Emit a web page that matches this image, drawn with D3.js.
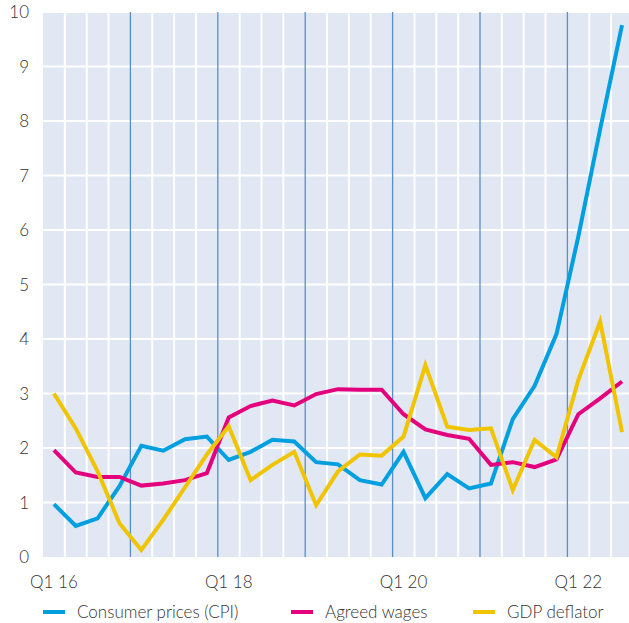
<!DOCTYPE html>
<html>
<head>
<meta charset="utf-8">
<script src="https://cdn.jsdelivr.net/npm/d3@7"></script>
<style>
    body { margin: 0; background: #fff; }
    svg { display: block; font-family: Lato, "Open Sans", sans-serif; }
    .lbl { fill: #333; font-size: 17px; font-weight: 300; }
</style>
</head>
<body>
<svg id="chart" width="629" height="623"></svg>
<script>
const quarters = ["Q1 16","Q2 16","Q3 16","Q4 16","Q1 17","Q2 17","Q3 17","Q4 17",
    "Q1 18","Q2 18","Q3 18","Q4 18","Q1 19","Q2 19","Q3 19","Q4 19",
    "Q1 20","Q2 20","Q3 20","Q4 20","Q1 21","Q2 21","Q3 21","Q4 21",
    "Q1 22","Q2 22","Q3 22"];
const cpi = [0.97,0.57,0.71,1.30,2.04,1.95,2.16,2.21,1.78,1.93,2.15,2.12,1.74,1.70,1.41,1.33,
    1.93,1.08,1.52,1.26,1.35,2.53,3.14,4.09,5.88,7.85,9.76];
const wages = [1.96,1.55,1.47,1.47,1.31,1.35,1.41,1.54,2.56,2.77,2.87,2.78,2.99,3.08,3.07,3.07,
    2.62,2.34,2.24,2.17,1.69,1.74,1.65,1.79,2.62,2.91,3.22];
const gdpDeflator = [3.00,2.36,1.57,0.62,0.13,0.68,1.28,1.88,2.40,1.41,1.69,1.93,0.95,1.57,1.88,1.86,
    2.21,3.52,2.39,2.33,2.36,1.23,2.15,1.83,3.25,4.32,2.29];
const yTicks = [0,1,2,3,4,5,6,7,8,9,10];
const xTickLabels = ["Q1 16","Q1 18","Q1 20","Q1 22"];

const series = [
    {name: "Consumer prices (CPI)", values: cpi, color: "#009fe0"},
    {name: "Agreed wages", values: wages, color: "#e4007c"},
    {name: "GDP deflator", values: gdpDeflator, color: "#f0c400"}
];

const svg = d3.select("#chart");
const pLeft = 43, pTop = 12, pBottom = 557, pRight = 629;
const qw = 21.85;

// one unit per quarter, points sit in the middle of each quarter
const x = d3.scaleLinear().domain([0, 28]).range([pLeft, pLeft + 28 * qw]);
const y = d3.scaleLinear().domain([0, 10]).range([pBottom, pTop]);

svg.append("rect")
    .attr("x", pLeft).attr("y", pTop)
    .attr("width", pRight - pLeft).attr("height", pBottom - pTop)
    .attr("fill", "#e1e8f4");

// white grid
svg.append("g").selectAll("line")
    .data(yTicks.slice(1))
    .enter().append("line")
    .attr("x1", pLeft).attr("x2", pRight)
    .attr("y1", d => y(d)).attr("y2", d => y(d))
    .attr("stroke", "#fff").attr("stroke-width", 2);

svg.append("g").selectAll("line")
    .data(d3.range(1, 28).filter(i => i % 4 != 0))
    .enter().append("line")
    .attr("x1", d => x(d)).attr("x2", d => x(d))
    .attr("y1", pTop).attr("y2", pBottom)
    .attr("stroke", "#fff").attr("stroke-width", 2);

// year separators
svg.append("g").selectAll("line")
    .data([4, 8, 12, 16, 20, 24])
    .enter().append("line")
    .attr("x1", d => x(d)).attr("x2", d => x(d))
    .attr("y1", pTop).attr("y2", pBottom)
    .attr("stroke", "#5a8fc3").attr("stroke-width", 1.3);

// y labels
svg.append("g").selectAll("text")
    .data(yTicks)
    .enter().append("text")
    .attr("class", "lbl")
    .attr("x", 29).attr("y", d => y(d) + 6)
    .attr("text-anchor", "end")
    .text(d => d);

// x labels
svg.append("g").selectAll("text")
    .data(xTickLabels)
    .enter().append("text")
    .attr("class", "lbl")
    .attr("x", d => x(quarters.indexOf(d) + 0.5))
    .attr("y", 588)
    .attr("text-anchor", "middle")
    .text(d => d);

const line = d3.line()
    .x((d, i) => x(i + 0.5))
    .y(d => y(d));

svg.append("g").selectAll("path")
    .data(series)
    .enter().append("path")
    .attr("d", d => line(d.values))
    .attr("fill", "none")
    .attr("stroke", d => d.color)
    .attr("stroke-width", 4);

// legend
const legX = [43, 291, 473];
const leg = svg.append("g").selectAll("g")
    .data(series)
    .enter().append("g")
    .attr("transform", (d, i) => "translate(" + legX[i] + ",612)");
leg.append("line")
    .attr("x1", 0).attr("x2", 22)
    .attr("stroke", d => d.color).attr("stroke-width", 4);
leg.append("text")
    .attr("class", "lbl")
    .attr("x", 34).attr("y", 6)
    .text(d => d.name);
</script>
</body>
</html>
